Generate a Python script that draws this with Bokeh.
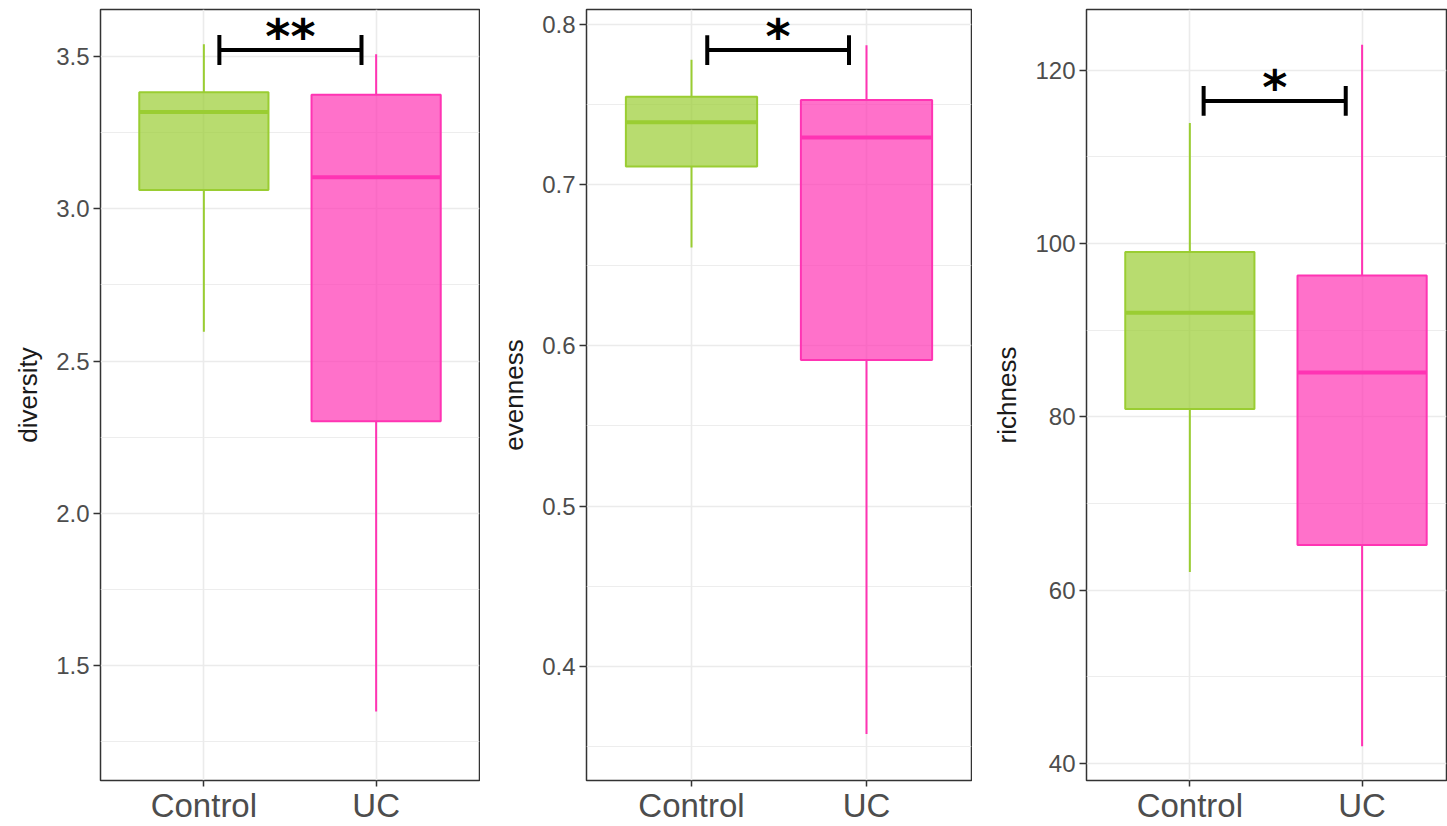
from bokeh.plotting import figure
from bokeh.layouts import row
from bokeh.models import FixedTicker, Range1d, ColumnDataSource
from bokeh.core.properties import value
from bokeh.embed import file_html
from bokeh.resources import INLINE

# ---------------- data ----------------
groups = ["Control", "UC"]
group_colors = ["#9ACD32", "#FF34B3"]

diversity_min = [2.596, 1.349]
diversity_q1 = [3.062, 2.302]
diversity_median = [3.318, 3.104]
diversity_q3 = [3.383, 3.375]
diversity_max = [3.541, 3.508]

evenness_min = [0.661, 0.358]
evenness_q1 = [0.7115, 0.591]
evenness_median = [0.739, 0.7296]
evenness_q3 = [0.755, 0.753]
evenness_max = [0.778, 0.787]

richness_min = [62.1, 42.0]
richness_q1 = [80.9, 65.2]
richness_median = [92.0, 85.1]
richness_q3 = [99.0, 96.3]
richness_max = [113.9, 122.9]

diversity_ticks = [1.5, 2.0, 2.5, 3.0, 3.5]
diversity_tick_labels = ["1.5", "2.0", "2.5", "3.0", "3.5"]
evenness_ticks = [0.4, 0.5, 0.6, 0.7, 0.8]
evenness_tick_labels = ["0.4", "0.5", "0.6", "0.7", "0.8"]
richness_ticks = [40, 60, 80, 100, 120]
richness_tick_labels = ["40", "60", "80", "100", "120"]

sig_labels = ["**", "*", "*"]
sig_x0 = [1.09, 1.09, 1.08]
sig_x1 = [1.915, 1.90, 1.905]
sig_y = [3.522, 0.784, 116.44]

# ---------------- style ----------------
FONT = "Liberation Sans"
BOX_WIDTH = 0.75
HEIGHT = 826
TOP = 9
BOTTOM = 44


def minor_of(ticks):
    step = ticks[1] - ticks[0]
    out = [t - step / 2 for t in ticks] + [ticks[-1] + step / 2]
    return out


def make_panel(name, mins, q1s, meds, q3s, maxs, ticks, tick_labels, y_start, y_end,
               x_end, width, border_left, star, bx0, bx1, by):
    p = figure(width=width, height=HEIGHT, title=None,
               x_range=Range1d(0.4, x_end), y_range=Range1d(y_start, y_end),
               output_backend="svg", toolbar_location=None,
               min_border_left=border_left, min_border_right=1,
               min_border_top=TOP, min_border_bottom=BOTTOM)
    p.background_fill_color = "white"
    p.border_fill_color = "white"
    p.outline_line_color = "#333333"
    p.outline_line_width = 1.5

    positions = [i + 1 for i in range(len(groups))]

    # axes
    p.xaxis.ticker = FixedTicker(ticks=positions)
    p.xaxis.major_label_overrides = {pos: g for pos, g in zip(positions, groups)}
    p.yaxis.ticker = FixedTicker(ticks=ticks, minor_ticks=minor_of(ticks))
    p.yaxis.major_label_overrides = {t: l for t, l in zip(ticks, tick_labels)}
    for ax in (p.xaxis[0], p.yaxis[0]):
        ax.axis_line_color = None
        ax.major_tick_line_color = "#333333"
        ax.major_tick_line_width = 1.5
        ax.major_tick_in = 0
        ax.minor_tick_line_color = None
        ax.major_label_text_color = "#4d4d4d"
        ax.major_label_text_font = FONT
    p.xaxis.major_tick_out = 6
    p.xaxis.major_label_standoff = 0
    p.xaxis.major_label_text_font_size = "33px"
    p.yaxis.major_tick_out = 7
    p.yaxis.major_label_standoff = 4
    p.yaxis.major_label_text_font_size = "24px"
    p.yaxis.axis_label = name
    p.yaxis.axis_label_text_font = FONT
    p.yaxis.axis_label_text_font_size = "26px"
    p.yaxis.axis_label_text_font_style = "normal"
    p.yaxis.axis_label_text_color = "#1a1a1a"
    p.yaxis.axis_label_standoff = 10

    # grid
    p.xgrid.grid_line_color = "#ebebeb"
    p.xgrid.grid_line_width = 1.6
    p.ygrid.grid_line_color = "#ebebeb"
    p.ygrid.grid_line_width = 1.6
    p.ygrid.minor_grid_line_color = "#ebebeb"
    p.ygrid.minor_grid_line_width = 0.9

    src = ColumnDataSource(dict(
        x=positions, lo=mins, q1=q1s, med=meds, q3=q3s, hi=maxs, color=group_colors,
        xl=[x - BOX_WIDTH / 2 for x in positions],
        xr=[x + BOX_WIDTH / 2 for x in positions],
    ))
    # whiskers
    p.segment(x0="x", y0="q3", x1="x", y1="hi", source=src, line_color="color", line_width=2)
    p.segment(x0="x", y0="q1", x1="x", y1="lo", source=src, line_color="color", line_width=2)
    # boxes
    p.vbar(x="x", bottom="q1", top="q3", width=BOX_WIDTH, source=src,
           fill_color="color", fill_alpha=0.7, line_color="color", line_width=2)
    # medians
    p.segment(x0="xl", y0="med", x1="xr", y1="med", source=src, line_color="color", line_width=4)

    # significance bracket
    frame_h = HEIGHT - TOP - BOTTOM
    tick_half = 15 / frame_h * (y_end - y_start)
    p.segment(x0=[bx0], y0=[by], x1=[bx1], y1=[by], line_color="black", line_width=4)
    p.segment(x0=[bx0, bx1], y0=[by - tick_half] * 2, x1=[bx0, bx1], y1=[by + tick_half] * 2,
              line_color="black", line_width=4)
    p.text(x=[(bx0 + bx1) / 2], y=[by], text=[star], text_align="center",
           text_baseline="alphabetic", text_font=value("DejaVu Sans"),
           text_font_style="bold", text_font_size="48px", text_color="black", y_offset=-14)
    return p


p1 = make_panel("diversity", diversity_min, diversity_q1, diversity_median, diversity_q3,
                diversity_max, diversity_ticks, diversity_tick_labels, 1.122, 3.655,
                2.6, 480, 100, sig_labels[0], sig_x0[0], sig_x1[0], sig_y[0])
p2 = make_panel("evenness", evenness_min, evenness_q1, evenness_median, evenness_q3,
                evenness_max, evenness_ticks, evenness_tick_labels, 0.329, 0.8093,
                2.6, 492, 106, sig_labels[1], sig_x0[1], sig_x1[1], sig_y[1])
p3 = make_panel("richness", richness_min, richness_q1, richness_median, richness_q3,
                richness_max, richness_ticks, richness_tick_labels, 38.05, 126.98,
                2.49, 475, 114, sig_labels[2], sig_x0[2], sig_x1[2], sig_y[2])

layout = row(p1, p2, p3, spacing=0)
open("out.html", "w").write(file_html(layout, INLINE))
